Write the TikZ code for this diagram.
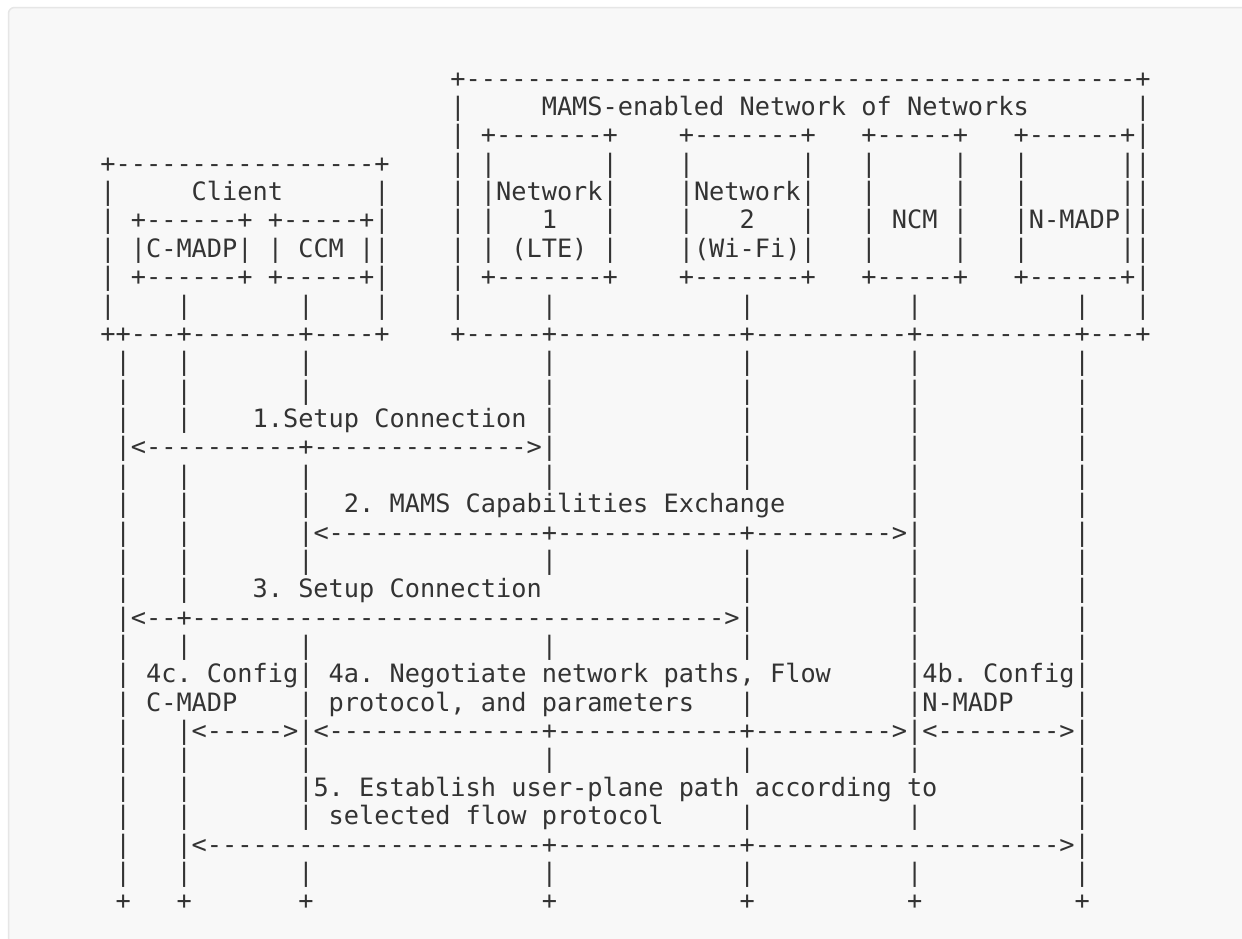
\documentclass[tikz,border=0pt]{standalone}
\usepackage{fontspec}
\setmonofont{DejaVu Sans Mono}
\ExplSyntaxOn
\NewDocumentCommand\rep{m}{\prg_replicate:nn{#1}{-\kern0pt}}
\ExplSyntaxOff
\definecolor{txt}{HTML}{333333}
\definecolor{bgfill}{HTML}{F8F8F8}
\definecolor{bgline}{HTML}{E6E6E6}
\tikzset{asc/.style={anchor=base west, inner sep=0pt, outer sep=0pt, text=txt,
  font=\ttfamily\fontsize{25.28pt}{28.37pt}\selectfont}}
\newcommand\ch[3]{\node[asc] (n#1x#2) at ({85.2+15.22*#2},{87.1+28.37*#1}) {#3};}
\newcommand\hr[3]{\node[asc] (d#1x#2) at ({85.2+15.22*#2},{87.1+28.37*#1}) {\rep{\numexpr#3-#2+1\relax}};}
\newcommand\vl[2]{\foreach \cc in {#2} {\ch{#1}{\cc}{|}}}
\begin{document}
\begin{tikzpicture}[x=1pt,y=-1pt]
\useasboundingbox (0,0) rectangle (1242,938);
\fill[white] (0,0) rectangle (1242,938);
\fill[bgfill, draw=bgline, line width=1.5pt, rounded corners=6pt] (8.5,7.5) rectangle (1275,975);
% row 0
\ch{0}{24}{+}\hr{0}{25}{68}\ch{0}{69}{+}
% row 1
\ch{1}{24}{|}\ch{1}{30}{MAMS-enabled Network of Networks}\ch{1}{69}{|}
% row 2
\ch{2}{24}{|}
\ch{2}{26}{+}\hr{2}{27}{33}\ch{2}{34}{+}
\ch{2}{39}{+}\hr{2}{40}{46}\ch{2}{47}{+}
\ch{2}{51}{+}\hr{2}{52}{56}\ch{2}{57}{+}
\ch{2}{61}{+}\hr{2}{62}{67}\ch{2}{68}{+}
\ch{2}{69}{|}
% row 3
\ch{3}{1}{+}\hr{3}{2}{18}\ch{3}{19}{+}
\vl{3}{24,26,34,39,47,51,57,61,68,69}
% row 4
\ch{4}{1}{|}\ch{4}{7}{Client}\ch{4}{19}{|}
\vl{4}{24,26,34,39,47,51,57,61,68,69}
\ch{4}{27}{Network}\ch{4}{40}{Network}
% row 5
\ch{5}{1}{|}
\ch{5}{3}{+}\hr{5}{4}{9}\ch{5}{10}{+}
\ch{5}{12}{+}\hr{5}{13}{17}\ch{5}{18}{+}
\ch{5}{19}{|}
\vl{5}{24,26,34,39,47,51,57,61,68,69}
\ch{5}{30}{1}\ch{5}{43}{2}\ch{5}{53}{NCM}\ch{5}{62}{N-MADP}
% row 6
\vl{6}{1,3,10,12,18,19}
\ch{6}{4}{C-MADP}\ch{6}{14}{CCM}
\vl{6}{24,26,34,39,47,51,57,61,68,69}
\ch{6}{28}{(LTE)}\ch{6}{40}{(Wi-Fi)}
% row 7
\ch{7}{1}{|}
\ch{7}{3}{+}\hr{7}{4}{9}\ch{7}{10}{+}
\ch{7}{12}{+}\hr{7}{13}{17}\ch{7}{18}{+}
\ch{7}{19}{|}
\ch{7}{24}{|}
\ch{7}{26}{+}\hr{7}{27}{33}\ch{7}{34}{+}
\ch{7}{39}{+}\hr{7}{40}{46}\ch{7}{47}{+}
\ch{7}{51}{+}\hr{7}{52}{56}\ch{7}{57}{+}
\ch{7}{61}{+}\hr{7}{62}{67}\ch{7}{68}{+}
\ch{7}{69}{|}
% row 8
\vl{8}{1,6,14,19,24,30,43,54,65,69}
% row 9
\ch{9}{1}{+}\ch{9}{2}{+}\hr{9}{3}{5}\ch{9}{6}{+}\hr{9}{7}{13}\ch{9}{14}{+}\hr{9}{15}{18}\ch{9}{19}{+}
\ch{9}{24}{+}\hr{9}{25}{29}\ch{9}{30}{+}\hr{9}{31}{42}\ch{9}{43}{+}\hr{9}{44}{53}\ch{9}{54}{+}\hr{9}{55}{64}\ch{9}{65}{+}\hr{9}{66}{68}\ch{9}{69}{+}
% rows 10-11
\vl{10}{2,6,14,30,43,54,65}
\vl{11}{2,6,14,30,43,54,65}
% row 12
\vl{12}{2,6,30,43,54,65}
\ch{12}{11}{1.Setup Connection}
% row 13
\ch{13}{2}{|}\ch{13}{3}{<}\hr{13}{4}{13}\ch{13}{14}{+}\hr{13}{15}{28}\ch{13}{29}{>}\ch{13}{30}{|}
\vl{13}{43,54,65}
% row 14
\vl{14}{2,6,14,30,43,54,65}
% row 15
\vl{15}{2,6,14,54,65}
\ch{15}{17}{2. MAMS Capabilities Exchange}
% row 16
\vl{16}{2,6,14}
\ch{16}{15}{<}\hr{16}{16}{29}\ch{16}{30}{+}\hr{16}{31}{42}\ch{16}{43}{+}\hr{16}{44}{52}\ch{16}{53}{>}\ch{16}{54}{|}
\ch{16}{65}{|}
% row 17
\vl{17}{2,6,14,30,43,54,65}
% row 18
\vl{18}{2,6,43,54,65}
\ch{18}{11}{3. Setup Connection}
% row 19
\ch{19}{2}{|}\ch{19}{3}{<}\hr{19}{4}{5}\ch{19}{6}{+}\hr{19}{7}{41}\ch{19}{42}{>}\ch{19}{43}{|}
\vl{19}{54,65}
% row 20
\vl{20}{2,6,14,30,43,54,65}
% row 21
\vl{21}{2,14,54,65}
\ch{21}{4}{4c. Config}
\ch{21}{16}{4a. Negotiate network paths, Flow}
\ch{21}{55}{4b. Config}
% row 22
\vl{22}{2,14,43,54,65}
\ch{22}{4}{C-MADP}
\ch{22}{16}{protocol, and parameters}
\ch{22}{55}{N-MADP}
% row 23
\vl{23}{2,6}
\ch{23}{7}{<}\hr{23}{8}{12}\ch{23}{13}{>}\ch{23}{14}{|}
\ch{23}{15}{<}\hr{23}{16}{29}\ch{23}{30}{+}\hr{23}{31}{42}\ch{23}{43}{+}\hr{23}{44}{52}\ch{23}{53}{>}\ch{23}{54}{|}
\ch{23}{55}{<}\hr{23}{56}{63}\ch{23}{64}{>}\ch{23}{65}{|}
% row 24
\vl{24}{2,6,14,30,43,54,65}
% row 25
\vl{25}{2,6,14,65}
\ch{25}{15}{5. Establish user-plane path according to}
% row 26
\vl{26}{2,6,14,43,54,65}
\ch{26}{16}{selected flow protocol}
% row 27
\vl{27}{2,6}
\ch{27}{7}{<}\hr{27}{8}{29}\ch{27}{30}{+}\hr{27}{31}{42}\ch{27}{43}{+}\hr{27}{44}{63}\ch{27}{64}{>}\ch{27}{65}{|}
% row 28
\vl{28}{2,6,14,30,43,54,65}
% row 29
\foreach \cc in {2,6,14,30,43,54,65} {\ch{29}{\cc}{+}}
\end{tikzpicture}
\end{document}
